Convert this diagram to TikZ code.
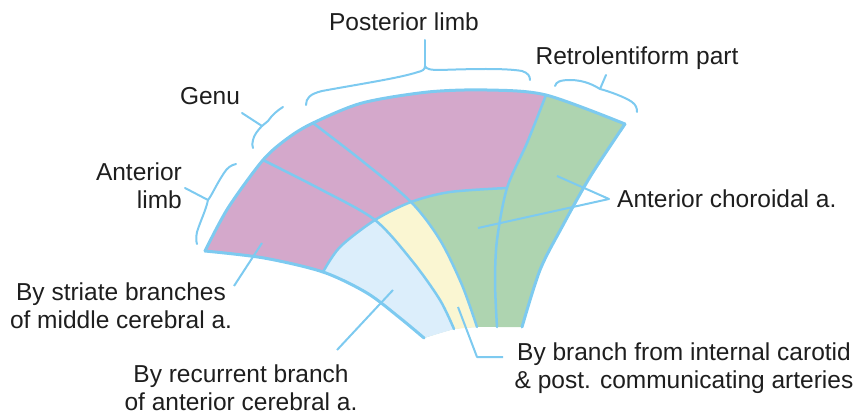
\documentclass[tikz,border=0pt]{standalone}
\usepackage{fontspec}
\setmainfont{Liberation Sans}
\usetikzlibrary{calc}
\definecolor{capsule}{RGB}{125,202,240}
\definecolor{striatecol}{RGB}{212,168,203}
\definecolor{choroidcol}{RGB}{174,212,176}
\definecolor{carotidcol}{RGB}{250,246,210}
\definecolor{recurrentcol}{RGB}{220,238,251}
\definecolor{labelgray}{RGB}{30,30,30}
\tikzstyle{border}=[draw=capsule,line width=3pt,line cap=round,line join=round]
\tikzstyle{divider}=[draw=capsule,line width=2.5pt,line cap=round]
\tikzstyle{pointer}=[draw=capsule,line width=2pt,line join=round]
\tikzstyle{bracket}=[draw=capsule,line width=2pt,line cap=round]
\tikzstyle{label}=[font=\fontsize{24.5}{27.5}\selectfont,text=labelgray,inner sep=0pt]

\begin{document}
\begin{tikzpicture}[x=1pt,y=-1pt]
  \useasboundingbox (0,0) rectangle (861,414);
  % outer arc
  \coordinate (O1) at (205,251);
  \coordinate (Oc) at (228,208);
  \coordinate (O2) at (263,160);
  \coordinate (Od) at (288,138);
  \coordinate (O3) at (313,123);
  \coordinate (Oa) at (362,103);
  \coordinate (Ob) at (428,92);
  \coordinate (Oe) at (487,90);
  \coordinate (O4) at (546,95);
  \coordinate (O5) at (625,124);
  % lower left edge
  \coordinate (L1) at (264,258);
  \coordinate (I1) at (323,272);
  \coordinate (L2) at (367,293);
  \coordinate (L3) at (400,318);
  \coordinate (B0) at (424,338);
  % inner arc
  \coordinate (Ia) at (340,247);
  \coordinate (I2) at (375,220);
  \coordinate (I3) at (411,202);
  \coordinate (Ib) at (450,192);
  \coordinate (D1) at (507,188);
  % radial lines
  \coordinate (P1) at (320,189);
  \coordinate (Q1) at (413,262);
  \coordinate (Q2) at (440,300);
  \coordinate (B1) at (454,329);
  \coordinate (P2) at (361,160);
  \coordinate (R1) at (440,240);
  \coordinate (R2) at (462,285);
  \coordinate (B2) at (477,327);
  \coordinate (S1) at (527,143);
  \coordinate (S2) at (497,240);
  \coordinate (S3) at (495,282);
  \coordinate (B3) at (497,327);
  % right edge
  \coordinate (T1) at (590,177);
  \coordinate (T2) at (562,227);
  \coordinate (T3) at (540,270);
  \coordinate (B4) at (522,327);

  % fills
  \fill[choroidcol] plot[smooth] coordinates {(O1) (Oc) (O2) (Od) (O3) (Oa) (Ob) (Oe) (O4) (O5)}
    -- plot[smooth] coordinates {(O5) (T1) (T2) (T3) (B4)}
    -- plot[smooth] coordinates {(B4) (B3) (B2) (B1) (B0)}
    -- plot[smooth] coordinates {(B0) (L3) (L2) (I1) (L1) (O1)} -- cycle;
  \fill[striatecol] plot[smooth] coordinates {(O1) (Oc) (O2) (Od) (O3) (Oa) (Ob) (Oe) (O4)}
    -- plot[smooth] coordinates {(O4) (S1) (D1)}
    -- plot[smooth] coordinates {(D1) (Ib) (I3) (I2) (Ia) (I1)}
    -- plot[smooth] coordinates {(I1) (L1) (O1)} -- cycle;
  \fill[recurrentcol] plot[smooth] coordinates {(I1) (Ia) (I2)}
    -- plot[smooth] coordinates {(I2) (Q1) (Q2) (B1)}
    -- (B0)
    -- plot[smooth] coordinates {(B0) (L3) (L2) (I1)} -- cycle;
  \fill[carotidcol] (I2) -- plot[smooth] coordinates {(I3) (R1) (R2) (B2)}
    -- (B1)
    -- plot[smooth] coordinates {(B1) (Q2) (Q1) (I2)} -- cycle;

  % outlines
  \draw[border] plot[smooth] coordinates {(O1) (Oc) (O2) (Od) (O3) (Oa) (Ob) (Oe) (O4) (O5)};
  \draw[border] plot[smooth] coordinates {(O5) (T1) (T2) (T3) (B4)};
  \draw[border] plot[smooth] coordinates {(O1) (L1) (I1) (L2) (L3) (B0)};
  \draw[divider] plot[smooth] coordinates {(I1) (Ia) (I2) (I3) (Ib) (D1)};
  \draw[divider] plot[smooth] coordinates {(O2) (P1) (I2) (Q1) (Q2) (B1)};
  \draw[divider] plot[smooth] coordinates {(O3) (P2) (I3) (R1) (R2) (B2)};
  \draw[divider] plot[smooth] coordinates {(O4) (S1) (D1) (S2) (S3) (B3)};

  % braces
  \draw[bracket] (306,105) .. controls (306,98) and (310,94) .. (322,91)
    .. controls (360,84) and (400,78) .. (418,72) .. controls (422,71) and (425,70) .. (425,66)
    .. controls (426,69) and (430,70) .. (440,70) .. controls (470,69) and (505,68) .. (522,71)
    .. controls (528,73) and (530,76) .. (530,80); %posterior
  \draw[bracket] (425,66) -- (425,40);
  \draw[bracket] (555,86) .. controls (556,82) and (560,80) .. (570,80)
    .. controls (585,80) and (595,86) .. (600,89)
    .. controls (608,91) and (625,97) .. (632,102) .. controls (636,105) and (637,108) .. (637,112); %retro
  \draw[bracket] (600,89) -- (606,75);
  \draw[bracket] (283,107) .. controls (278,110) and (272,115) .. (268,121)
    .. controls (266,123) and (264,124) .. (262,126)
    .. controls (258,130) and (254,135) .. (253,140) .. controls (252,143) and (252,146) .. (253,148); %genu
  \draw[bracket] (262,126) -- (242,113);
  \draw[bracket] (236,164) .. controls (231,165) and (227,168) .. (224,173)
    .. controls (216,185) and (212,195) .. (208,200)
    .. controls (206,210) and (200,222) .. (197,232) .. controls (196,237) and (196,241) .. (197,244); %anterior
  \draw[bracket] (208,200) -- (185,188);

  % labels (multi-line nodes sit on their last baseline)
  \node[label,anchor=base] (postlimb) at (404,31) {Posterior limb};
  \node[label,anchor=base] (retro) at (637,65) {Retrolentiform part};
  \node[label,anchor=base] (genu) at (210,105) {Genu};
  \node[label,anchor=base east,align=right] (antlimb) at (182,208) {Anterior\\limb};
  \node[label,anchor=base,align=center] (striate) at (121,328) {By striate branches\\of middle cerebral a.};
  \node[label,anchor=base,align=center] (recurrent) at (241,410) {By recurrent branch\\of anterior cerebral a.};
  \node[label,anchor=base,align=center] (carotid) at (684,388) {By branch from internal carotid\\\& post. communicating arteries};
  \node[label,anchor=base west] (choroidal) at (617,207) {Anterior choroidal a.};

  % pointers
  \coordinate (chorfoot) at (609,199);
  \coordinate (chorup) at (557,176);
  \coordinate (chordown) at (478,228);
  \coordinate (strfoot) at (234,286);
  \coordinate (strtip) at (262,243);
  \coordinate (recfoot) at (337,350);
  \coordinate (rectip) at (393,290);
  \coordinate (cartip) at (458,307);
  \coordinate (carbend) at (477,357);
  \coordinate (carfoot) at (503,357);
  \draw[pointer] (chorup) -- (chorfoot) -- (chordown);
  \draw[pointer] (strfoot) -- (strtip);
  \draw[pointer] (recfoot) -- (rectip);
  \draw[pointer] (cartip) -- (carbend) -- (carfoot);
\end{tikzpicture}
\end{document}
